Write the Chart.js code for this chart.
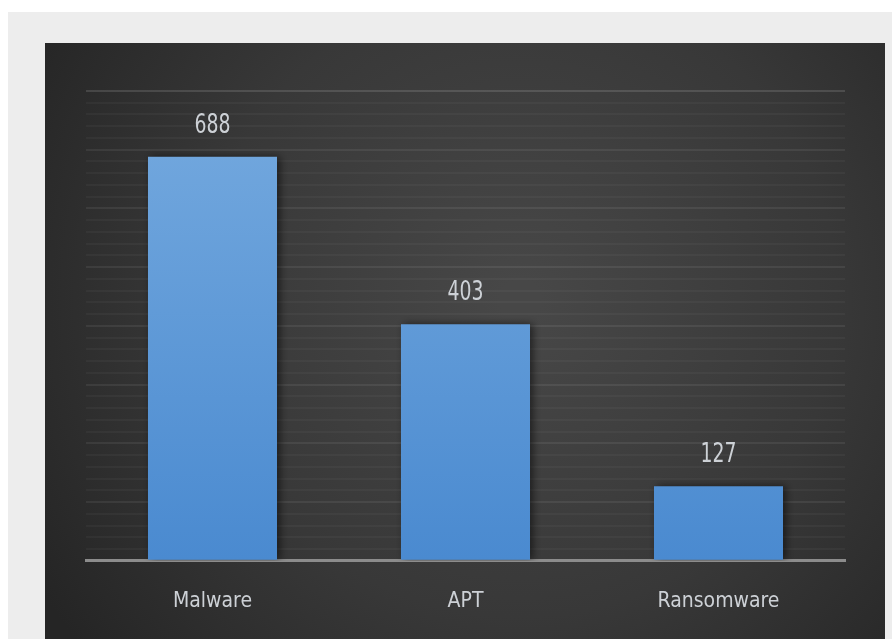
<!DOCTYPE html>
<html>
<head>
<meta charset="utf-8">
<script src="https://cdn.jsdelivr.net/npm/chart.js@4.4.0/dist/chart.umd.min.js"></script>
<style>
  html, body { margin: 0; padding: 0; background: #ffffff; }
  #wrap { width: 892px; height: 643px; }
</style>
</head>
<body>
<div id="wrap"><canvas id="threatChart" width="892" height="643"></canvas></div>
<script>
// chart data
const categories = ['Malware', 'APT', 'Ransomware'];
const incidentCounts = [688, 403, 127];
const axisMax = 800;

const labelFont = "'DejaVu Sans Condensed', 'Liberation Sans Narrow', 'DejaVu Sans', sans-serif";
const textColor = '#cdd1d6';

// page + dark panel behind the plot
const panelBackground = {
    id: 'panelBackground',
    beforeDraw(chart) {
        const c = chart.ctx;
        c.save();
        c.fillStyle = '#ffffff';
        c.fillRect(0, 0, chart.width, chart.height);
        c.fillStyle = '#ededed';
        c.fillRect(8, 12, chart.width - 8, chart.height - 16);
        const g = c.createRadialGradient(520, 300, 20, 520, 300, 560);
        g.addColorStop(0, '#474747');
        g.addColorStop(0.55, '#383838');
        g.addColorStop(1, '#252525');
        c.fillStyle = g;
        c.fillRect(45, 43, 840, 596);
        c.restore();
    },
    beforeDatasetsDraw(chart) {
        const c = chart.ctx;
        c.save();
        c.shadowColor = 'rgba(0,0,0,0.55)';
        c.shadowBlur = 8;
        c.shadowOffsetX = 3;
    },
    afterDatasetsDraw(chart) {
        const c = chart.ctx;
        c.restore();
        // value labels above bars
        const meta = chart.getDatasetMeta(0);
        c.save();
        c.fillStyle = textColor;
        c.font = '21px ' + labelFont;
        c.textAlign = 'center';
        c.textBaseline = 'middle';
        meta.data.forEach((bar, i) => {
            c.save();
            c.translate(bar.x, bar.y - 31);
            c.scale(1, 1.3);
            c.fillText(String(incidentCounts[i]), 0, 0);
            c.restore();
        });
        c.restore();
    }
};

const ctx = document.getElementById('threatChart').getContext('2d');
const barFill = ctx.createLinearGradient(0, 150, 0, 560);
barFill.addColorStop(0, '#70a6dd');
barFill.addColorStop(1, '#4a8ad0');

const threatChart = new Chart(ctx, {
    type: 'bar',
    data: {
        labels: categories,
        datasets: [{
            data: incidentCounts,
            backgroundColor: barFill,
            borderWidth: 0,
            categoryPercentage: 1,
            barPercentage: 0.51
        }]
    },
    options: {
        responsive: false,
        animation: false,
        layout: { padding: { left: 86, right: 47, top: 91, bottom: 1 } },
        plugins: {
            legend: { display: false },
            tooltip: { enabled: false }
        },
        scales: {
            x: {
                z: 1,
                grid: { display: false, drawTicks: false },
                border: { display: true, color: '#8c8c8c', width: 3 },
                ticks: {
                    color: textColor,
                    font: { size: 21, family: labelFont },
                    padding: 28
                }
            },
            y: {
                min: 0,
                max: axisMax,
                border: { display: false },
                ticks: { display: false, stepSize: 20 },
                grid: {
                    drawTicks: false,
                    lineWidth: 2,
                    color: (c) => {
                        if (c.tick.value === 0) return 'rgba(0,0,0,0)';
                        if (c.tick.value === axisMax) return 'rgba(255,255,255,0.13)';
                        return c.tick.value % 100 === 0 ? 'rgba(255,255,255,0.07)' : 'rgba(255,255,255,0.035)';
                    }
                }
            }
        }
    },
    plugins: [panelBackground]
});
</script>
</body>
</html>
